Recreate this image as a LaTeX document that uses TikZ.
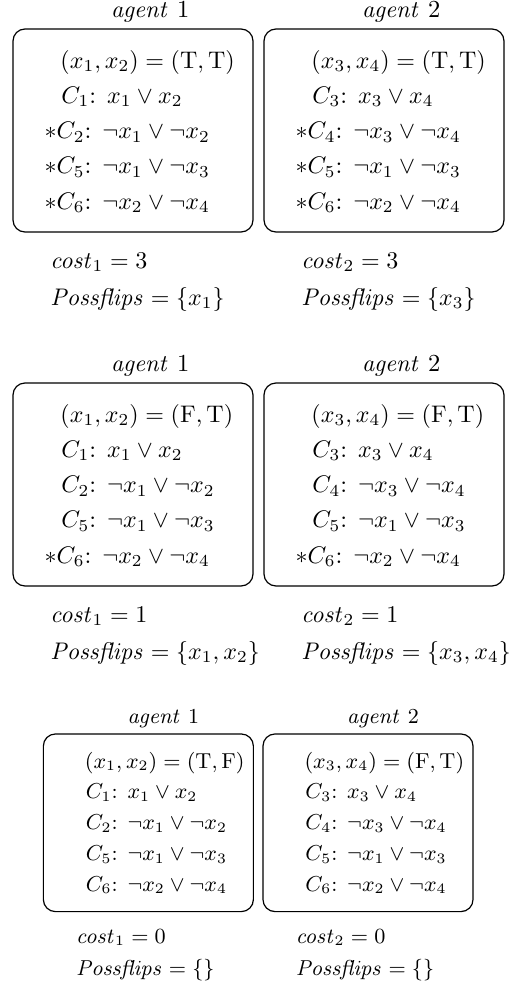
\documentclass[tikz,border=0pt]{standalone}
\newcommand\mypanel[9]{%
  \draw[frm] (0,0) rectangle (240,203);
  \node[lab] (#1-agent) at (137,-12) {$\mathit{agent}$~#2};
  \node[txt] (#1-r0) at (47,39) {#3};
  \node[txt] (#1-r1) at (48,74.25) {#4};
  \node[txt] (#1-r2) at (48,109.5) {#5};
  \node[txt] (#1-r3) at (48,144.75) {#6};
  \node[txt] (#1-r4) at (48,180) {#7};
  \node[txt] (#1-cost) at (37,239) {#8};
  \node[txt] (#1-flips) at (37,276) {#9};
}
\newcommand\strow{\hspace*{-2pt}\llap{$\ast$}}
\begin{document}
\begin{tikzpicture}[x=0.41667pt, y=-0.41667pt,
  frm/.style={draw, line width=0.5pt, rounded corners=5pt},
  txt/.style={anchor=base west, inner sep=0pt},
  lab/.style={anchor=base, inner sep=0pt},
  every node/.style={font=\fontsize{10.2}{12}\selectfont}]
\useasboundingbox (0,0) rectangle (516,989);

% ---- step 1 ----
\begin{scope}[shift={(13,29)}]
\mypanel{tl}{1}{$(x_1,x_2)=(\mathrm{T},\mathrm{T})$}
  {$C_1$: $x_1\vee x_2$}
  {\strow$C_2$: $\neg x_1\vee\neg x_2$}
  {\strow$C_5$: $\neg x_1\vee\neg x_3$}
  {\strow$C_6$: $\neg x_2\vee\neg x_4$}
  {$\mathit{cost}_1=3$}
  {$\mathit{Possflips}=\{x_1\}$}
\end{scope}
\begin{scope}[shift={(264,29)}]
\mypanel{tr}{2}{$(x_3,x_4)=(\mathrm{T},\mathrm{T})$}
  {$C_3$: $x_3\vee x_4$}
  {\strow$C_4$: $\neg x_3\vee\neg x_4$}
  {\strow$C_5$: $\neg x_1\vee\neg x_3$}
  {\strow$C_6$: $\neg x_2\vee\neg x_4$}
  {$\mathit{cost}_2=3$}
  {$\mathit{Possflips}=\{x_3\}$}
\end{scope}

% ---- step 2 ----
\begin{scope}[shift={(13,383)}]
\mypanel{ml}{1}{$(x_1,x_2)=(\mathrm{F},\mathrm{T})$}
  {$C_1$: $x_1\vee x_2$}
  {$C_2$: $\neg x_1\vee\neg x_2$}
  {$C_5$: $\neg x_1\vee\neg x_3$}
  {\strow$C_6$: $\neg x_2\vee\neg x_4$}
  {$\mathit{cost}_1=1$}
  {$\mathit{Possflips}=\{x_1,x_2\}$}
\end{scope}
\begin{scope}[shift={(264,383)}]
\mypanel{mr}{2}{$(x_3,x_4)=(\mathrm{F},\mathrm{T})$}
  {$C_3$: $x_3\vee x_4$}
  {$C_4$: $\neg x_3\vee\neg x_4$}
  {$C_5$: $\neg x_1\vee\neg x_3$}
  {\strow$C_6$: $\neg x_2\vee\neg x_4$}
  {$\mathit{cost}_2=1$}
  {$\mathit{Possflips}=\{x_3,x_4\}$}
\end{scope}

% ---- step 3 ----
\begin{scope}[shift={(32,708.6)}, scale=0.875,
  every node/.style={font=\fontsize{8.9}{10.5}\selectfont}]
\begin{scope}[shift={(13,29)}]
\mypanel{bl}{1}{$(x_1,x_2)=(\mathrm{T},\mathrm{F})$}
  {$C_1$: $x_1\vee x_2$}
  {$C_2$: $\neg x_1\vee\neg x_2$}
  {$C_5$: $\neg x_1\vee\neg x_3$}
  {$C_6$: $\neg x_2\vee\neg x_4$}
  {$\mathit{cost}_1=0$}
  {$\mathit{Possflips}=\{\}$}
\end{scope}
\begin{scope}[shift={(264,29)}]
\mypanel{br}{2}{$(x_3,x_4)=(\mathrm{F},\mathrm{T})$}
  {$C_3$: $x_3\vee x_4$}
  {$C_4$: $\neg x_3\vee\neg x_4$}
  {$C_5$: $\neg x_1\vee\neg x_3$}
  {$C_6$: $\neg x_2\vee\neg x_4$}
  {$\mathit{cost}_2=0$}
  {$\mathit{Possflips}=\{\}$}
\end{scope}
\end{scope}
\end{tikzpicture}
\end{document}
